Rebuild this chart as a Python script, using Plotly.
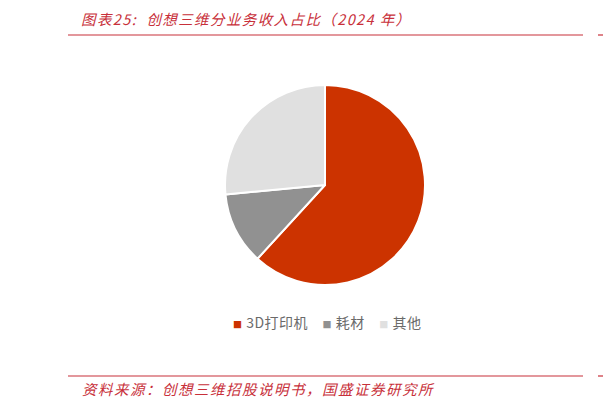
import plotly.graph_objects as go

# 创想三维 2024 年分业务收入占比
segments = ["3D打印机", "耗材", "其他"]
shares = [61.8, 11.7, 26.5]
colors = ["#CC3300", "#919191", "#E0E0E0"]

title_text = "图表25:  创想三维分业务收入占比（2024 年）"
source_text = "资料来源：创想三维招股说明书，国盛证券研究所"

W, H = 611, 408
OFF = 8  # page body margin in the browser
red = "#C8303A"
cjk = "Noto Sans CJK SC"


def px_x(x):
    return (x - OFF) / W


def px_y(y):
    return 1 - (y - OFF) / H


def spaced(s, ls):
    return '<span style="letter-spacing:%spx">%s</span>' % (ls, s)


fig = go.Figure(go.Pie(
    labels=segments,
    values=shares,
    sort=False,
    direction="clockwise",
    rotation=0,
    textinfo="none",
    hoverinfo="label+percent",
    marker=dict(colors=colors, line=dict(color="white", width=2)),
    domain=dict(x=[px_x(225), px_x(425)], y=[px_y(285), px_y(85)]),
))

# header / footer rules
for yy in [35, 376]:
    fig.add_shape(type="line", xref="paper", yref="paper",
                  x0=px_x(68), x1=px_x(583), y0=px_y(yy), y1=px_y(yy),
                  line=dict(color=red, width=1.2))
    fig.add_shape(type="line", xref="paper", yref="paper",
                  x0=px_x(598), x1=px_x(620), y0=px_y(yy), y1=px_y(yy),
                  line=dict(color=red, width=1.2))

fig.add_annotation(text=spaced(title_text, 1.4), xref="paper", yref="paper",
                   x=px_x(79), y=px_y(18), xanchor="left", yanchor="middle",
                   showarrow=False,
                   font=dict(family=cjk, size=14.5, color=red, style="italic"))
fig.add_annotation(text=spaced(source_text, 1.5), xref="paper", yref="paper",
                   x=px_x(80), y=px_y(388), xanchor="left", yanchor="middle",
                   showarrow=False,
                   font=dict(family=cjk, size=14.5, color=red, style="italic"))

# legend row: small coloured squares followed by the labels
items = []
for lab, col in zip(segments, colors):
    items.append('<span style="color:%s;font-size:9px">■</span> %s' % (col, lab))
fig.add_annotation(text=spaced("    ".join(items), 0.5), xref="paper", yref="paper",
                   x=px_x(327), y=px_y(322), xanchor="center", yanchor="middle",
                   showarrow=False,
                   font=dict(family=cjk, size=14, color="#6a6a6a"))

fig.update_layout(
    width=W, height=H,
    margin=dict(l=0, r=0, t=0, b=0),
    paper_bgcolor="white",
    plot_bgcolor="white",
    showlegend=False,
)

fig.write_html("out.html")
